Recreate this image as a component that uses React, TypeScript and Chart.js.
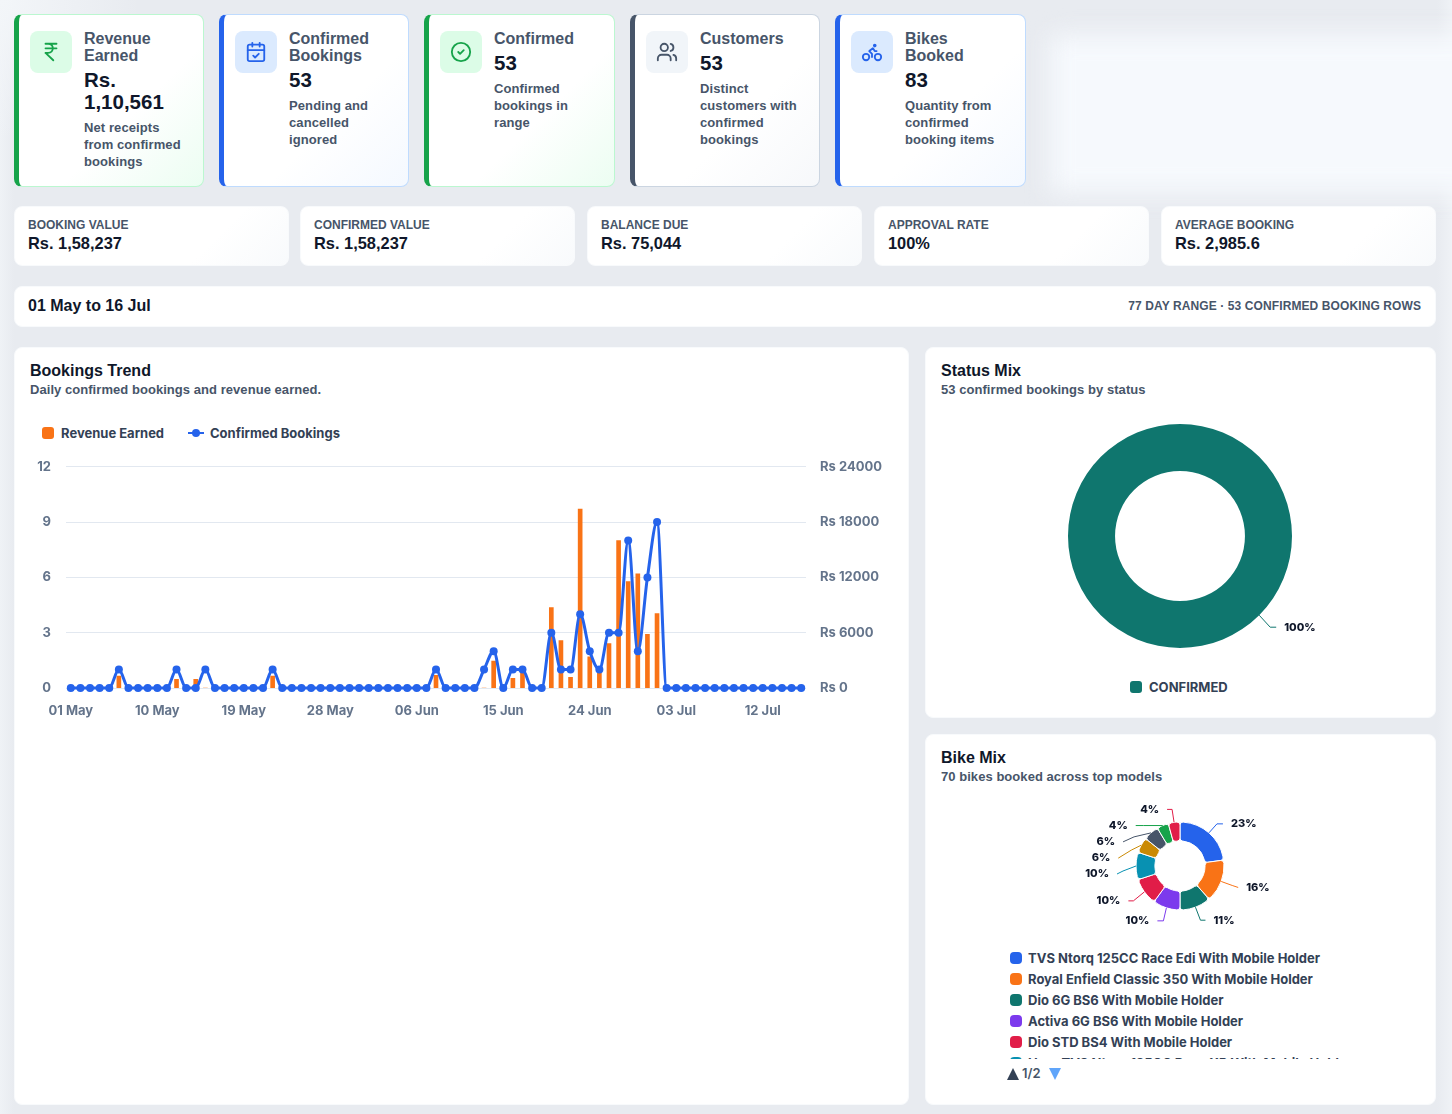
import React, { useEffect, useRef } from "react";
import { Chart, registerables } from "chart.js";

Chart.register(...registerables);

const font = "Inter, 'Noto Sans', sans-serif";
const cardFont = "'Liberation Sans', Arial, sans-serif";

const dayLabels = [
  "01 May", "02 May", "03 May", "04 May", "05 May", "06 May", "07 May", "08 May", "09 May", "10 May",
  "11 May", "12 May", "13 May", "14 May", "15 May", "16 May", "17 May", "18 May", "19 May", "20 May",
  "21 May", "22 May", "23 May", "24 May", "25 May", "26 May", "27 May", "28 May", "29 May", "30 May",
  "31 May", "01 Jun", "02 Jun", "03 Jun", "04 Jun", "05 Jun", "06 Jun", "07 Jun", "08 Jun", "09 Jun",
  "10 Jun", "11 Jun", "12 Jun", "13 Jun", "14 Jun", "15 Jun", "16 Jun", "17 Jun", "18 Jun", "19 Jun",
  "20 Jun", "21 Jun", "22 Jun", "23 Jun", "24 Jun", "25 Jun", "26 Jun", "27 Jun", "28 Jun", "29 Jun",
  "30 Jun", "01 Jul", "02 Jul", "03 Jul", "04 Jul", "05 Jul", "06 Jul", "07 Jul", "08 Jul", "09 Jul",
  "10 Jul", "11 Jul", "12 Jul", "13 Jul", "14 Jul", "15 Jul", "16 Jul",
];
const confirmedBookings = [
  0, 0, 0, 0, 0, 1, 0, 0, 0, 0, 0, 1, 0, 0, 1, 0, 0, 0, 0, 0,
  0, 1, 0, 0, 0, 0, 0, 0, 0, 0, 0, 0, 0, 0, 0, 0, 0, 0, 1, 0,
  0, 0, 0, 1, 2, 0, 1, 1, 0, 0, 3, 1, 1, 4, 2, 1, 3, 3, 8, 2,
  6, 9, 0, 0, 0, 0, 0, 0, 0, 0, 0, 0, 0, 0, 0, 0, 0,
];
const revenueEarned = [
  0, 0, 0, 0, 0, 1300, 0, 0, 0, 0, 0, 940, 0, 940, 0, 0, 0, 0, 0, 0,
  0, 1300, 0, 0, 0, 0, 0, 0, 0, 0, 0, 0, 0, 0, 0, 0, 0, 0, 1370, 0,
  0, 0, 0, 0, 2916, 0, 1044, 1584, 0, 0, 8712, 5148, 1152, 19404, 3384, 1944, 4824, 15984, 11556, 12384,
  5832, 8064, 0, 0, 0, 0, 0, 0, 0, 0, 0, 0, 0, 0, 0, 0, 0,
];

const statusLabels = ["CONFIRMED"];
const statusValues = [53];
const statusPercents = ["100%"];
const statusColors = ["#0f766e"];

const bikeLabels = [
  "TVS Ntorq 125CC Race Edi With Mobile Holder",
  "Royal Enfield Classic 350 With Mobile Holder",
  "Dio 6G BS6 With Mobile Holder",
  "Activa 6G BS6 With Mobile Holder",
  "Dio STD BS4 With Mobile Holder",
  "Hero TVS Ntorq 125CC Race XP With Mobile Holder",
];
const bikeValues = [16, 11, 8, 7, 7, 7, 4, 4, 3, 3];
const bikePercents = ["23%", "16%", "11%", "10%", "10%", "10%", "6%", "6%", "4%", "4%"];
const bikeColors = ["#2563eb", "#f97316", "#0f766e", "#7c3aed", "#e11d48", "#0891b2", "#ca8a04", "#475569", "#16a34a", "#e11d48"];

// leader lines: elbow dx, dy then end dx, dy, measured from the slice's outer edge
const statusLeaders = [[11, 12, 17, 12]];
const bikeLeaders = [
  [8, -9, 14, -9],
  [11, 4, 17, 6],
  [5, 13, 10, 13],
  [-3, 13, -9, 13],
  [-11, 9, -16, 9],
  [-13, 5, -19, 8],
  [-10, 5, -23, 13],
  [-17, 4, -28, 9],
  [-19, 0, -27, 0],
  [-2, -13, -7, -13],
];

const tones: any = {
  green: { bar: "#16a34a", border: "#bbf7d0", soft: "#dcfce7", ink: "#16a34a", tint: "rgba(220,252,231,.55)" },
  blue: { bar: "#2563eb", border: "#bfdbfe", soft: "#dbeafe", ink: "#2563eb", tint: "rgba(219,234,254,.3)" },
  slate: { bar: "#475569", border: "#cbd5e1", soft: "#f1f5f9", ink: "#475569", tint: "rgba(226,232,240,.3)" },
};

const kpis = [
  { left: 14, width: 190, tone: "green", icon: "rupee", title: "Revenue Earned", value: "Rs. 1,10,561", note: "Net receipts from confirmed bookings" },
  { left: 219, width: 190, tone: "blue", icon: "calendar", title: "Confirmed Bookings", value: "53", note: "Pending and cancelled ignored" },
  { left: 424, width: 191, tone: "green", icon: "check", title: "Confirmed", value: "53", note: "Confirmed bookings in range" },
  { left: 630, width: 190, tone: "slate", icon: "users", title: "Customers", value: "53", note: "Distinct customers with confirmed bookings" },
  { left: 835, width: 191, tone: "blue", icon: "bike", title: "Bikes Booked", value: "83", note: "Quantity from confirmed booking items" },
];

const stats = [
  { left: 14, label: "BOOKING VALUE", value: "Rs. 1,58,237" },
  { left: 300, label: "CONFIRMED VALUE", value: "Rs. 1,58,237" },
  { left: 587, label: "BALANCE DUE", value: "Rs. 75,044" },
  { left: 874, label: "APPROVAL RATE", value: "100%" },
  { left: 1161, label: "AVERAGE BOOKING", value: "Rs. 2,985.6" },
];

const iconPaths: any = {
  rupee: (
    <path d="M6 3h12M6 8h12M6 13l8.5 8M6 13h3M9 13c6.667 0 6.667-10 0-10" />
  ),
  calendar: (
    <>
      <path d="M8 2v4M16 2v4M3 10h18M9 16l2 2 4-4" />
      <rect x="3" y="4" width="18" height="18" rx="2" />
    </>
  ),
  check: (
    <>
      <circle cx="12" cy="12" r="10" />
      <path d="m9 12 2 2 4-4" />
    </>
  ),
  users: (
    <>
      <path d="M16 21v-2a4 4 0 0 0-4-4H6a4 4 0 0 0-4 4v2" />
      <circle cx="9" cy="7" r="4" />
      <path d="M22 21v-2a4 4 0 0 0-3-3.87M16 3.13a4 4 0 0 1 0 7.75" />
    </>
  ),
  bike: (
    <>
      <circle cx="18.5" cy="17.5" r="3.5" />
      <circle cx="5.5" cy="17.5" r="3.5" />
      <circle cx="15" cy="5" r="1" />
      <path d="M12 17.5V14l-3-3 4-3 2 3h2" />
    </>
  ),
};

// draws the percent labels with their elbow lines off each slice
const leaderPlugin = {
  id: "leaderLabels",
  afterDatasetsDraw(chart: any, _args: any, opts: any) {
    const { ctx } = chart;
    chart.getDatasetMeta(0).data.forEach((arc: any, i: number) => {
      const { startAngle, endAngle, outerRadius, x, y } = arc.getProps(["startAngle", "endAngle", "outerRadius", "x", "y"], true);
      const mid = (startAngle + endAngle) / 2;
      const px = x + Math.cos(mid) * outerRadius;
      const py = y + Math.sin(mid) * outerRadius;
      const [ex, ey, tx, ty] = opts.leaders[i];
      ctx.save();
      ctx.strokeStyle = opts.colors[i];
      ctx.lineWidth = 1;
      ctx.beginPath();
      ctx.moveTo(px, py);
      ctx.lineTo(px + ex, py + ey);
      ctx.lineTo(px + tx, py + ty);
      ctx.stroke();
      ctx.fillStyle = "#0f172a";
      ctx.font = `800 11px ${font}`;
      ctx.textBaseline = "middle";
      ctx.textAlign = tx >= 0 ? "left" : "right";
      ctx.fillText(opts.texts[i], px + tx + (tx >= 0 ? 8 : -8), py + ty);
      ctx.restore();
    });
  },
};

const TrendChart: React.FC = () => {
  const ref = useRef<HTMLCanvasElement | null>(null);

  useEffect(() => {
    if (!ref.current) return;
    const chart = new Chart(ref.current, {
      data: {
        labels: dayLabels,
        datasets: [
          {
            type: "line",
            label: "Confirmed Bookings",
            data: confirmedBookings,
            yAxisID: "y",
            borderColor: "#2563eb",
            backgroundColor: "#2563eb",
            borderWidth: 3,
            pointRadius: 4,
            pointBorderWidth: 0,
            cubicInterpolationMode: "monotone",
            clip: false,
            order: 1,
          },
          {
            type: "bar",
            label: "Revenue Earned",
            data: revenueEarned,
            yAxisID: "y1",
            backgroundColor: "#f97316",
            barThickness: 4,
            order: 2,
          },
        ],
      } as any,
      options: {
        responsive: false,
        animation: false,
        plugins: { legend: { display: false }, tooltip: { enabled: false } },
        scales: {
          x: {
            afterFit: (s: any) => { s.height = 41; },
            grid: { display: false },
            border: { display: false },
            ticks: {
              autoSkip: false,
              maxRotation: 0,
              padding: 7,
              color: "#64748b",
              font: { family: font, size: 13, weight: 700 },
              callback: (_v: any, i: number) => (i % 9 === 0 ? dayLabels[i] : ""),
            },
          },
          y: {
            min: 0,
            max: 12,
            afterFit: (s: any) => { s.width = 46; },
            grid: { color: "#e2e8f0", drawTicks: false },
            border: { display: false },
            ticks: { stepSize: 3, padding: 15, color: "#64748b", font: { family: font, size: 13, weight: 700 } },
          },
          y1: {
            position: "right",
            min: 0,
            max: 24000,
            afterFit: (s: any) => { s.width = 94; },
            grid: { display: false, drawTicks: false },
            border: { display: false },
            ticks: {
              stepSize: 6000,
              padding: 14,
              color: "#64748b",
              font: { family: font, size: 13, weight: 700 },
              callback: (v: any) => `Rs ${v}`,
            },
          },
        },
      } as any,
    });
    return () => chart.destroy();
  }, []);

  return <canvas ref={ref} width={880} height={285} style={{ position: "absolute", left: 20, top: 444 }} />;
};

interface DonutProps {
  values: number[];
  labels: string[];
  colors: string[];
  texts: string[];
  leaders: number[][];
  radius: number;
  cutout: string;
  rotation: number;
  borderWidth: number;
  borderRadius: number;
  top: number;
  height: number;
}

const Donut: React.FC<DonutProps> = ({ values, labels, colors, texts, leaders, radius, cutout, rotation, borderWidth, borderRadius, top, height }) => {
  const ref = useRef<HTMLCanvasElement | null>(null);

  useEffect(() => {
    if (!ref.current) return;
    const chart = new Chart(ref.current, {
      type: "doughnut",
      data: {
        labels,
        datasets: [{ data: values, backgroundColor: colors, borderColor: "#ffffff", borderWidth, borderRadius }],
      },
      options: {
        responsive: false,
        animation: false,
        radius,
        cutout,
        rotation,
        plugins: {
          legend: { display: false },
          tooltip: { enabled: false },
          leaderLabels: { leaders, colors, texts },
        },
      } as any,
      plugins: [leaderPlugin],
    });
    return () => chart.destroy();
  }, []);

  return <canvas ref={ref} width={360} height={height} style={{ position: "absolute", left: 1000, top }} />;
};

const Panel: React.FC<any> = ({ left, top, width, height, title, sub, children }) => (
  <div style={{ position: "absolute", left, top, width, height, boxSizing: "border-box", background: "#fff", border: "1px solid #f8fafc", borderRadius: 8, fontFamily: cardFont }}>
    <div style={{ position: "absolute", left: 15, top: 13, fontSize: 16, fontWeight: 700, lineHeight: "20px", color: "#0f172a" }}>{title}</div>
    <div style={{ position: "absolute", left: 15, top: 33, fontSize: 13, fontWeight: 700, lineHeight: "18px", letterSpacing: 0.05, color: "#475569" }}>{sub}</div>
    {children}
  </div>
);

const App: React.FC = () => (
  <div style={{ position: "relative", width: 1452, height: 1114, overflow: "hidden", fontFamily: font, background: "radial-gradient(circle at 0 0, #f3f6f9 0, rgba(232,235,240,0) 140px), linear-gradient(to right, #eff2f6 0, #e8ebf0 14px, #e8ebf0 1437px, #eff2f6 1452px)" }}>
    <style>{"body{margin:0}"}</style>

    <div style={{ position: "absolute", left: 1050, top: 35, width: 500, height: 158, background: "#f6f9fd", filter: "blur(12px)" }} />

    {kpis.map((k) => {
      const t = tones[k.tone];
      return (
        <div key={k.title} style={{ position: "absolute", left: k.left, top: 14, width: k.width, height: 173, boxSizing: "border-box", borderRadius: 8, border: `1px solid ${t.border}`, borderLeft: `5px solid ${t.bar}`, background: `linear-gradient(135deg, #fff 60%, ${t.tint}), #fff`, fontFamily: cardFont }}>
          <div style={{ position: "absolute", left: 11, top: 16, width: 42, height: 42, borderRadius: 8, background: t.soft, display: "flex", alignItems: "center", justifyContent: "center" }}>
            <svg width="22" height="22" viewBox="0 0 24 24" fill="none" stroke={t.ink} strokeWidth="2" strokeLinecap="round" strokeLinejoin="round">{iconPaths[k.icon]}</svg>
          </div>
          <div style={{ position: "absolute", left: 65, top: 15, width: 104 }}>
            <div style={{ fontSize: 16, fontWeight: 700, lineHeight: "17px", color: "#475569" }}>{k.title}</div>
            <div style={{ fontSize: 20.5, fontWeight: 700, lineHeight: "22px", color: "#0f172a", margin: "5px 0 6px" }}>{k.value}</div>
            <div style={{ fontSize: 13, fontWeight: 700, lineHeight: "17px", letterSpacing: 0.1, color: "#475569" }}>{k.note}</div>
          </div>
        </div>
      );
    })}

    {stats.map((s) => (
      <div key={s.label} style={{ position: "absolute", left: s.left, top: 206, width: 275, height: 60, boxSizing: "border-box", background: "linear-gradient(135deg, #fff 70%, #f8fafc)", border: "1px solid #f8fafc", borderRadius: 8, fontFamily: cardFont }}>
        <div style={{ position: "absolute", left: 13, top: 10, fontSize: 12, fontWeight: 700, lineHeight: "16px", color: "#475569" }}>{s.label}</div>
        <div style={{ position: "absolute", left: 13, top: 26, fontSize: 16.4, fontWeight: 700, lineHeight: "20px", color: "#0f172a" }}>{s.value}</div>
      </div>
    ))}

    <div style={{ position: "absolute", left: 14, top: 286, width: 1422, height: 41, boxSizing: "border-box", background: "#fff", border: "1px solid #f8fafc", borderRadius: 8, fontFamily: cardFont }}>
      <div style={{ position: "absolute", left: 13, top: 9, fontSize: 16, fontWeight: 700, lineHeight: "20px", color: "#0f172a" }}>01 May to 16 Jul</div>
      <div style={{ position: "absolute", right: 14, top: 11, fontSize: 12, fontWeight: 700, lineHeight: "16px", letterSpacing: 0.1, color: "#475569" }}>77 DAY RANGE · 53 CONFIRMED BOOKING ROWS</div>
    </div>

    <Panel left={14} top={347} width={895} height={758} title="Bookings Trend" sub="Daily confirmed bookings and revenue earned." />
    <Panel left={925} top={347} width={511} height={371} title="Status Mix" sub="53 confirmed bookings by status" />
    <Panel left={925} top={734} width={511} height={371} title="Bike Mix" sub="70 bikes booked across top models" />

    <div style={{ position: "absolute", left: 42, top: 427, width: 12, height: 12, borderRadius: 3, background: "#f97316" }} />
    <div style={{ position: "absolute", left: 61, top: 425, fontSize: 13, fontWeight: 700, lineHeight: "16px", color: "#334155" }}>Revenue Earned</div>
    <div style={{ position: "absolute", left: 188, top: 432, width: 16, height: 2, background: "#2563eb" }} />
    <div style={{ position: "absolute", left: 192, top: 429, width: 8, height: 8, borderRadius: 4, background: "#2563eb" }} />
    <div style={{ position: "absolute", left: 210, top: 425, fontSize: 13, fontWeight: 700, lineHeight: "16px", color: "#334155" }}>Confirmed Bookings</div>

    <TrendChart />

    <Donut values={statusValues} labels={statusLabels} colors={statusColors} texts={statusPercents} leaders={statusLeaders} radius={112} cutout="58%" rotation={-45} borderWidth={0} borderRadius={0} top={416} height={240} />
    <div style={{ position: "absolute", left: 1130, top: 681, width: 12, height: 12, borderRadius: 3, background: statusColors[0] }} />
    <div style={{ position: "absolute", left: 1149, top: 679, fontSize: 13, fontWeight: 700, lineHeight: "16px", color: "#334155" }}>{statusLabels[0]}</div>

    <Donut values={bikeValues} labels={bikeLabels} colors={bikeColors} texts={bikePercents} leaders={bikeLeaders} radius={44} cutout="57%" rotation={0} borderWidth={1} borderRadius={3} top={791} height={150} />
    <div style={{ position: "absolute", left: 1000, top: 947, width: 360, height: 112, overflow: "hidden" }}>
      {bikeLabels.map((name, i) => (
        <div key={name} style={{ position: "absolute", left: 10, top: 21 * i, height: 21, display: "flex", alignItems: "center", whiteSpace: "nowrap" }}>
          <span style={{ width: 12, height: 12, borderRadius: 4, background: bikeColors[i], marginRight: 6 }} />
          <span style={{ fontSize: 13, fontWeight: 700, color: "#334155" }}>{name}</span>
        </div>
      ))}
    </div>
    <svg width="12" height="12" viewBox="0 0 12 12" style={{ position: "absolute", left: 1007, top: 1068 }}><path d="M6 0 12 12H0Z" fill="#334155" /></svg>
    <div style={{ position: "absolute", left: 1022, top: 1065, fontSize: 13, fontWeight: 600, lineHeight: "16px", color: "#475569" }}>1/2</div>
    <svg width="12" height="12" viewBox="0 0 12 12" style={{ position: "absolute", left: 1049, top: 1068 }}><path d="M0 0H12L6 12Z" fill="#60a5fa" /></svg>
  </div>
);

export default App;
